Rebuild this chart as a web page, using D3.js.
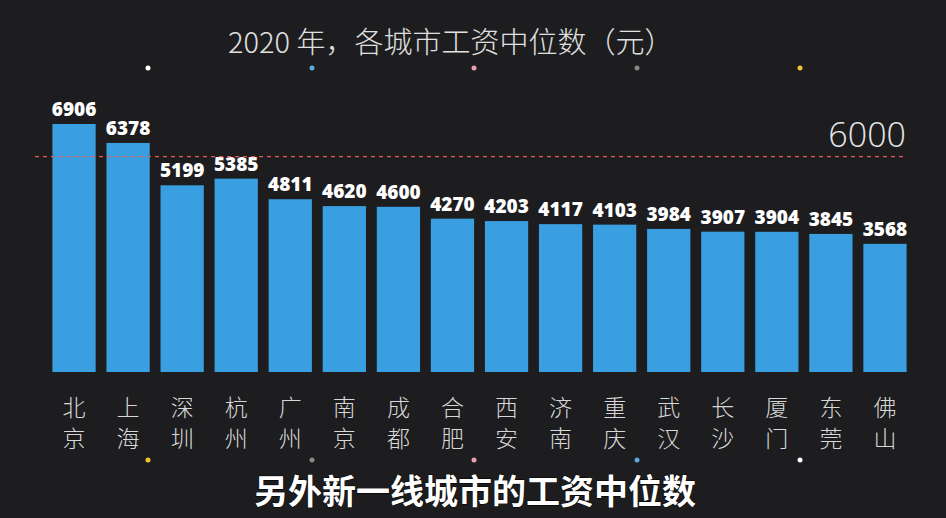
<!DOCTYPE html>
<html><head><meta charset="utf-8">
<script src="https://cdn.jsdelivr.net/npm/d3@7"></script>
<style>body{margin:0;background:#1c1c1e;}svg{display:block;}</style>
</head><body>
<svg id="chart" width="946" height="518"></svg>
<script>
const cities = ["北京","上海","深圳","杭州","广州","南京","成都","合肥","西安","济南","重庆","武汉","长沙","厦门","东莞","佛山"];
const wages = [6906,6378,5199,5385,4811,4620,4600,4270,4203,4117,4103,3984,3907,3904,3845,3568];
const refValue = 6000;
const topDots = ["#ffffff","#5aa9e6","#e8a0b4","#888888","#f2c230"];
const bottomDots = ["#f2c230","#888888","#e8a0b4","#5aa9e6","#ffffff"];

const svg = d3.select("#chart");
svg.append("rect").attr("width",946).attr("height",518).attr("fill","#1d1d1f");

const x = d3.scaleBand().domain(cities).range([47, 912]).paddingInner(0.2).paddingOuter(0.1);
const y = d3.scaleLinear().domain([0, 6906]).range([372, 124]);

svg.selectAll("rect.bar").data(wages).join("rect")
  .attr("class","bar")
  .attr("x",(d,i)=>x(cities[i])).attr("width",x.bandwidth())
  .attr("y",d=>y(d)).attr("height",d=>y(0)-y(d))
  .attr("fill","#3a9fe0");

svg.selectAll("text.val").data(wages).join("text")
  .attr("class","val")
  .attr("x",(d,i)=>x(cities[i])+x.bandwidth()/2).attr("y",d=>y(d)-8)
  .attr("text-anchor","middle").attr("fill","#fff")
  .attr("font-family","Open Sans, sans-serif").attr("font-weight",800).attr("font-size",19)
  .text(d=>d);

// category labels, two characters stacked
cities.forEach((c,i)=>{
  [0,1].forEach(k=>{
    svg.append("text")
      .attr("x",x(c)+x.bandwidth()/2).attr("y",416+k*31)
      .attr("text-anchor","middle").attr("fill","#d8d8d8")
      .attr("font-family","Noto Sans CJK SC").attr("font-weight",300).attr("font-size",23)
      .text(c[k]);
  });
});

// 6000 reference line
svg.append("line").attr("x1",35).attr("x2",906).attr("y1",y(refValue)).attr("y2",y(refValue))
  .attr("stroke","#e05a5a").attr("stroke-dasharray","4,4").attr("stroke-width",1.2);
svg.append("text").attr("x",906).attr("y",147).attr("text-anchor","end")
  .attr("fill","#e6e6e6").attr("font-family","Open Sans, sans-serif").attr("font-weight",300).attr("font-size",34)
  .text(refValue);

svg.append("text").attr("x",228).attr("y",53)
  .attr("fill","#e0e0e0").attr("font-family","Noto Sans CJK SC").attr("font-weight",300).attr("font-size",29)
  .text("2020 年，各城市工资中位数（元）");

const dx = [148,312,474,637,800];
svg.selectAll("circle.t").data(topDots).join("circle").attr("class","t")
  .attr("cx",(d,i)=>dx[i]).attr("cy",68).attr("r",2.5).attr("fill",d=>d);
svg.selectAll("circle.b").data(bottomDots).join("circle").attr("class","b")
  .attr("cx",(d,i)=>dx[i]).attr("cy",460).attr("r",2.5).attr("fill",d=>d);

svg.append("text").attr("x",475).attr("y",504).attr("text-anchor","middle")
  .attr("fill","#fff").attr("font-family","Noto Sans CJK SC").attr("font-weight","bold").attr("font-size",34)
  .attr("stroke","#000").attr("stroke-width",1).attr("paint-order","stroke")
  .text("另外新一线城市的工资中位数");
</script>
</body></html>
